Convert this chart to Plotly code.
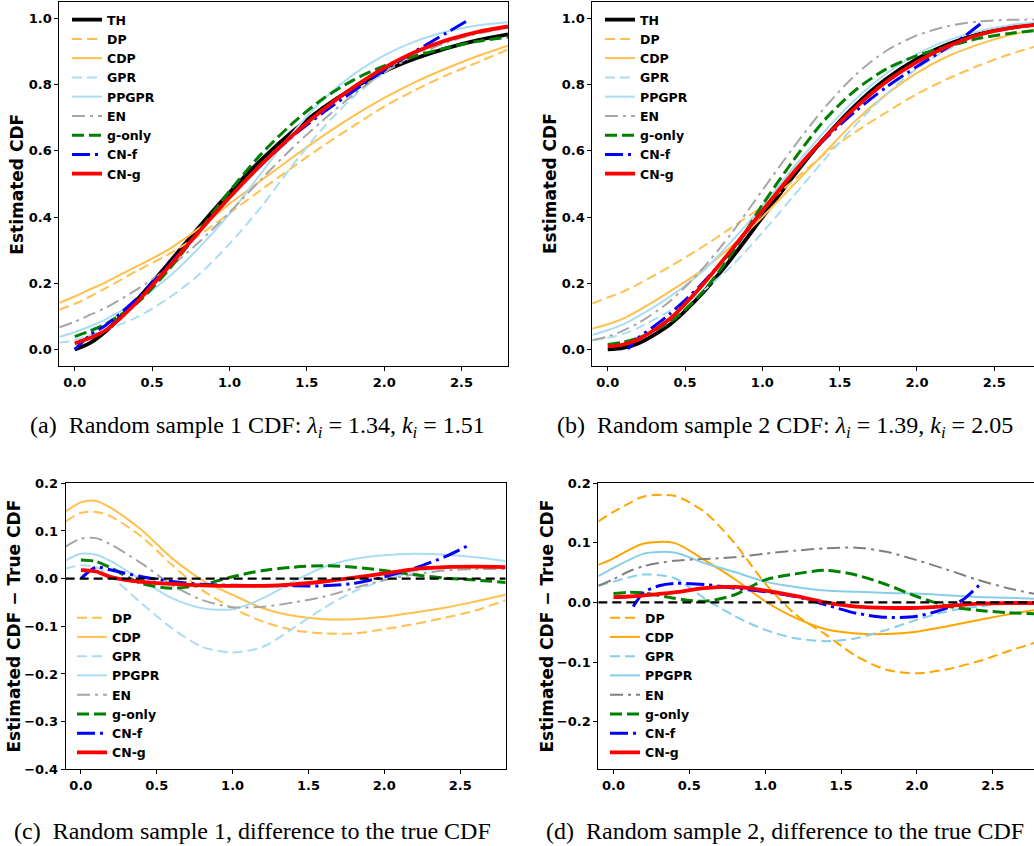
import plotly.graph_objects as go

# ---------------- data ----------------
X = [-0.1, 0.0, 0.1, 0.2, 0.4, 0.6, 0.8, 1.0, 1.2, 1.4, 1.6, 1.8, 2.0, 2.2, 2.4, 2.6, 2.8]
X0 = [0.0, 0.1, 0.2, 0.4, 0.6, 0.8, 1.0, 1.2, 1.4, 1.6, 1.8, 2.0, 2.2, 2.4, 2.6, 2.8]
X_CNF1 = [0.0, 0.1, 0.2, 0.4, 0.6, 0.8, 1.0, 1.2, 1.4, 1.6, 1.8, 2.0, 2.2, 2.4, 2.55]
X_CNF2 = [0.13, 0.2, 0.3, 0.4, 0.6, 0.8, 1.0, 1.2, 1.4, 1.6, 1.8, 2.0, 2.2, 2.3, 2.43]
ZERO_X = [-0.1, 2.8]
ZERO_Y = [0.0, 0.0]

# (a) sample 1 CDF
a_TH = [0.0, 0.020, 0.055, 0.149, 0.257, 0.368, 0.474, 0.571, 0.656, 0.729, 0.790, 0.840, 0.879, 0.910, 0.934, 0.952]
a_DP = [0.120, 0.138, 0.160, 0.185, 0.237, 0.286, 0.344, 0.412, 0.481, 0.548, 0.614, 0.675, 0.734, 0.784, 0.828, 0.867, 0.907]
a_CDP = [0.141, 0.160, 0.182, 0.203, 0.251, 0.300, 0.365, 0.440, 0.509, 0.578, 0.644, 0.705, 0.760, 0.808, 0.849, 0.886, 0.918]
a_GPR = [0.021, 0.028, 0.044, 0.059, 0.097, 0.153, 0.225, 0.319, 0.428, 0.552, 0.667, 0.763, 0.837, 0.894, 0.932, 0.958, 0.974]
a_PPGPR = [0.038, 0.052, 0.070, 0.091, 0.146, 0.216, 0.306, 0.410, 0.530, 0.650, 0.753, 0.831, 0.889, 0.931, 0.960, 0.979, 0.989]
a_EN = [0.067, 0.084, 0.105, 0.126, 0.181, 0.244, 0.323, 0.414, 0.512, 0.606, 0.691, 0.770, 0.837, 0.888, 0.927, 0.954, 0.972]
a_GONLY = [0.039, 0.056, 0.077, 0.139, 0.237, 0.355, 0.478, 0.588, 0.680, 0.756, 0.814, 0.857, 0.887, 0.911, 0.931, 0.944]
a_CNF = [0.0, 0.044, 0.073, 0.153, 0.251, 0.356, 0.460, 0.556, 0.641, 0.714, 0.780, 0.844, 0.901, 0.956, 0.997]
a_CNG = [0.018, 0.035, 0.058, 0.142, 0.246, 0.354, 0.459, 0.556, 0.644, 0.723, 0.792, 0.851, 0.899, 0.934, 0.959, 0.976]

# (b) sample 2 CDF
b_TH = [0.0, 0.005, 0.019, 0.075, 0.164, 0.275, 0.399, 0.523, 0.638, 0.737, 0.817, 0.878, 0.922, 0.953, 0.972, 0.984]
b_DP = [0.139, 0.157, 0.175, 0.198, 0.250, 0.306, 0.368, 0.433, 0.510, 0.590, 0.657, 0.716, 0.772, 0.818, 0.858, 0.892, 0.920]
b_CDP = [0.063, 0.076, 0.093, 0.118, 0.175, 0.236, 0.312, 0.400, 0.497, 0.593, 0.690, 0.770, 0.836, 0.886, 0.922, 0.950, 0.970]
b_GPR = [0.028, 0.035, 0.047, 0.066, 0.116, 0.171, 0.252, 0.353, 0.463, 0.573, 0.677, 0.771, 0.849, 0.907, 0.946, 0.970, 0.983]
b_PPGPR = [0.044, 0.058, 0.076, 0.101, 0.159, 0.230, 0.326, 0.434, 0.549, 0.658, 0.755, 0.833, 0.893, 0.934, 0.962, 0.980, 0.990]
b_EN = [0.028, 0.039, 0.057, 0.080, 0.145, 0.237, 0.351, 0.481, 0.610, 0.729, 0.829, 0.902, 0.949, 0.977, 0.991, 0.996, 0.997]
b_GONLY = [0.015, 0.022, 0.035, 0.082, 0.166, 0.288, 0.437, 0.571, 0.692, 0.783, 0.847, 0.888, 0.916, 0.940, 0.955, 0.965]
b_CNF = [0.001, 0.036, 0.070, 0.107, 0.194, 0.299, 0.417, 0.533, 0.634, 0.719, 0.792, 0.855, 0.913, 0.944, 0.991]
b_CNG = [0.009, 0.015, 0.031, 0.092, 0.188, 0.301, 0.419, 0.534, 0.638, 0.730, 0.808, 0.869, 0.916, 0.951, 0.971, 0.983]

# (c) sample 1 difference
c_DP = [0.120, 0.138, 0.140, 0.130, 0.088, 0.029, -0.024, -0.062, -0.090, -0.108, -0.115, -0.115, -0.106, -0.095, -0.082, -0.067, -0.045]
c_CDP = [0.141, 0.160, 0.163, 0.148, 0.102, 0.043, -0.003, -0.034, -0.062, -0.078, -0.085, -0.085, -0.080, -0.071, -0.061, -0.048, -0.034]
c_GPR = [0.021, 0.028, 0.024, 0.004, -0.052, -0.104, -0.143, -0.155, -0.143, -0.104, -0.062, -0.027, -0.003, 0.015, 0.022, 0.024, 0.022]
c_PPGPR = [0.038, 0.052, 0.050, 0.036, -0.003, -0.041, -0.062, -0.064, -0.041, -0.006, 0.024, 0.041, 0.049, 0.052, 0.050, 0.045, 0.037]
c_EN = [0.067, 0.084, 0.085, 0.071, 0.032, -0.013, -0.045, -0.060, -0.059, -0.050, -0.038, -0.020, -0.003, 0.009, 0.017, 0.020, 0.020]
c_GONLY = [0.039, 0.036, 0.022, -0.010, -0.020, -0.013, 0.004, 0.017, 0.024, 0.027, 0.024, 0.017, 0.008, 0.001, -0.003, -0.008]
c_CNF = [0.0, 0.024, 0.018, 0.004, -0.006, -0.012, -0.014, -0.015, -0.015, -0.015, -0.010, 0.004, 0.022, 0.046, 0.069]
c_CNG = [0.018, 0.015, 0.003, -0.007, -0.011, -0.014, -0.015, -0.015, -0.012, -0.006, 0.002, 0.011, 0.020, 0.024, 0.025, 0.024]

# (d) sample 2 difference
d_DP = [0.136, 0.152, 0.166, 0.178, 0.179, 0.152, 0.099, 0.032, -0.020, -0.054, -0.090, -0.113, -0.119, -0.112, -0.099, -0.082, -0.066]
d_CDP = [0.063, 0.074, 0.088, 0.099, 0.100, 0.071, 0.039, 0.002, -0.026, -0.045, -0.052, -0.053, -0.049, -0.040, -0.030, -0.020, -0.012]
d_GPR = [0.028, 0.035, 0.042, 0.047, 0.041, 0.007, -0.023, -0.046, -0.060, -0.065, -0.060, -0.046, -0.029, -0.015, -0.007, -0.002, -0.001]
d_PPGPR = [0.044, 0.058, 0.071, 0.082, 0.084, 0.066, 0.051, 0.035, 0.026, 0.020, 0.018, 0.016, 0.015, 0.012, 0.009, 0.008, 0.006]
d_EN = [0.028, 0.039, 0.052, 0.061, 0.070, 0.073, 0.076, 0.082, 0.087, 0.091, 0.092, 0.085, 0.071, 0.055, 0.038, 0.024, 0.013]
d_GONLY = [0.015, 0.017, 0.016, 0.007, 0.002, 0.013, 0.038, 0.048, 0.054, 0.046, 0.030, 0.010, -0.006, -0.013, -0.017, -0.019]
d_CNF = [-0.007, 0.017, 0.028, 0.032, 0.030, 0.024, 0.018, 0.010, -0.004, -0.018, -0.025, -0.023, -0.009, 0.004, 0.034]
d_CNG = [0.009, 0.010, 0.012, 0.017, 0.024, 0.026, 0.020, 0.011, 0.000, -0.007, -0.009, -0.009, -0.006, -0.002, -0.001, -0.001]

CAPTIONS = [
    "(a)\u2002Random sample 1 CDF: <i>λ</i><sub><i>i</i></sub> = 1.34, <i>k</i><sub><i>i</i></sub> = 1.51",
    "(b)\u2002Random sample 2 CDF: <i>λ</i><sub><i>i</i></sub> = 1.39, <i>k</i><sub><i>i</i></sub> = 2.05",
    "(c)\u2002Random sample 1, difference to the true CDF",
    "(d)\u2002Random sample 2, difference to the true CDF",
]
YTITLES = ["Estimated CDF", "Estimated CDF", "Estimated CDF \u2212 True CDF", "Estimated CDF \u2212 True CDF"]

# ---------------- styles ----------------
LIGHT = {"orange": "#FFC04D", "sky": "#ABDDF1", "gray": "#A6A6A6"}
FULL = {"orange": "#FFA500", "sky": "#87CEEB", "gray": "#808080"}
DASH = "10px,5px"
DASH_G = "12px,5px"
DASHDOT = "13px,5px,3px,5px"
DASHDOT_B = "18px,5px,3px,5px"


def styles(pal):
    return {
        "TH": dict(color="black", width=3.8, dash="solid"),
        "DP": dict(color=pal["orange"], width=2, dash=DASH),
        "CDP": dict(color=pal["orange"], width=2, dash="solid"),
        "GPR": dict(color=pal["sky"], width=2, dash=DASH),
        "PPGPR": dict(color=pal["sky"], width=2, dash="solid"),
        "EN": dict(color=pal["gray"], width=2, dash=DASHDOT),
        "g-only": dict(color="green", width=3, dash=DASH_G),
        "CN-f": dict(color="blue", width=3, dash=DASHDOT_B),
        "CN-g": dict(color="red", width=3.8, dash="solid"),
    }


fig = go.Figure()

panels = [
    ("", "legend", LIGHT, [
        ("TH", X0, a_TH), ("DP", X, a_DP), ("CDP", X, a_CDP), ("GPR", X, a_GPR),
        ("PPGPR", X, a_PPGPR), ("EN", X, a_EN), ("g-only", X0, a_GONLY),
        ("CN-f", X_CNF1, a_CNF), ("CN-g", X0, a_CNG)], False),
    ("2", "legend2", LIGHT, [
        ("TH", X0, b_TH), ("DP", X, b_DP), ("CDP", X, b_CDP), ("GPR", X, b_GPR),
        ("PPGPR", X, b_PPGPR), ("EN", X, b_EN), ("g-only", X0, b_GONLY),
        ("CN-f", X_CNF2, b_CNF), ("CN-g", X0, b_CNG)], False),
    ("3", "legend3", LIGHT, [
        ("DP", X, c_DP), ("CDP", X, c_CDP), ("GPR", X, c_GPR),
        ("PPGPR", X, c_PPGPR), ("EN", X, c_EN), ("g-only", X0, c_GONLY),
        ("CN-f", X_CNF1, c_CNF), ("CN-g", X0, c_CNG)], True),
    ("4", "legend4", FULL, [
        ("DP", X, d_DP), ("CDP", X, d_CDP), ("GPR", X, d_GPR),
        ("PPGPR", X, d_PPGPR), ("EN", X, d_EN), ("g-only", X0, d_GONLY),
        ("CN-f", X_CNF2, d_CNF), ("CN-g", X0, d_CNG)], True),
]

for suf, leg, pal, series, zero in panels:
    st = styles(pal)
    for name, xs, ys in series:
        ln = dict(st[name])
        ln["shape"] = "spline"
        ln["smoothing"] = 0.8
        fig.add_trace(go.Scatter(
            x=xs, y=ys, mode="lines", name=name, line=ln,
            xaxis="x" + suf, yaxis="y" + suf, legend=leg, showlegend=True,
            hoverinfo="skip"))
    if zero:
        fig.add_trace(go.Scatter(
            x=ZERO_X, y=ZERO_Y, mode="lines", line=dict(color="black", width=2.2, dash="9px,5px"),
            xaxis="x" + suf, yaxis="y" + suf, showlegend=False, hoverinfo="skip"))

W, H = 1034, 846


def px_x(v):
    return v / W


def px_y(v):
    return 1 - v / H


tickfont = dict(family="DejaVu Sans", size=13, color="black", weight="bold")
base_axis = dict(showline=True, linecolor="black", linewidth=1, ticks="outside", ticklen=4,
                 tickwidth=1, tickcolor="black", showgrid=False, zeroline=False,
                 tickfont=tickfont, tickformat=".1f", automargin=False)

# panel geometry in pixels: (left, right, top, bottom)
geo = {
    "": (59.3, 508.0, 2.0, 366.0),
    "2": (592.3, 1034.0, 2.0, 366.0),
    "3": (65.7, 505.7, 483.3, 769.3),
    "4": (598.3, 1034.0, 483.3, 769.3),
}
xr = {"": [-0.1, 2.8], "2": [-0.1, 2.757], "3": [-0.1, 2.8], "4": [-0.1, 2.772]}
yr = {"": [-0.05, 1.05], "2": [-0.05, 1.05], "3": [-0.4, 0.2], "4": [-0.28, 0.2]}
ytv = {"": [0, 0.2, 0.4, 0.6, 0.8, 1.0], "2": [0, 0.2, 0.4, 0.6, 0.8, 1.0],
       "3": [-0.4, -0.3, -0.2, -0.1, 0.0, 0.1, 0.2], "4": [-0.2, -0.1, 0.0, 0.1, 0.2]}

layout = dict(width=W, height=H, margin=dict(l=0, r=0, t=0, b=0, pad=0, autoexpand=False),
              paper_bgcolor="white", plot_bgcolor="white", showlegend=True)

for suf, (l, r, t, b) in geo.items():
    xa = dict(base_axis)
    xa.update(domain=[px_x(l), px_x(r)], range=xr[suf], anchor="y" + suf,
              tickvals=[0, 0.5, 1.0, 1.5, 2.0, 2.5], mirror=True)
    ya = dict(base_axis)
    ya.update(domain=[px_y(b), px_y(t)], range=yr[suf], anchor="x" + suf,
              tickvals=ytv[suf], mirror=(suf in ("", "3")))
    layout["xaxis" + suf] = xa
    layout["yaxis" + suf] = ya

legfont = dict(family="DejaVu Sans", size=12.5, color="black", weight="bold")
leg_pos = {"legend": (67, 5), "legend2": (600, 5), "legend3": (72, 603), "legend4": (605, 603)}
for k, (lx, ly) in leg_pos.items():
    layout[k] = dict(x=px_x(lx), y=px_y(ly), xanchor="left", yanchor="top",
                     bgcolor="rgba(0,0,0,0)", borderwidth=0, font=legfont,
                     tracegroupgap=0, itemwidth=30)

fig.update_layout(**layout)

annots = []
cap_pos = [(257.5, 427), (785, 427), (252, 831), (785, 831)]
for txt, (cx, cy) in zip(CAPTIONS, cap_pos):
    annots.append(dict(text=txt, x=px_x(cx), y=px_y(cy), xref="paper", yref="paper",
                       xanchor="center", yanchor="middle", showarrow=False,
                       font=dict(family="Liberation Serif", size=24, color="black")))
yt_pos = [(16.7, 184), (550, 184), (13, 626.5), (546, 626.5)]
for txt, (cx, cy) in zip(YTITLES, yt_pos):
    annots.append(dict(text=txt, x=px_x(cx), y=px_y(cy), xref="paper", yref="paper",
                       xanchor="center", yanchor="middle", showarrow=False, textangle=-90,
                       font=dict(family="DejaVu Sans", size=17, color="black", weight="bold")))
fig.update_layout(annotations=annots)

fig.write_html("out.html", config={"displayModeBar": False, "staticPlot": True},
               post_script="document.body.style.margin='0';document.body.style.overflow='hidden';")
